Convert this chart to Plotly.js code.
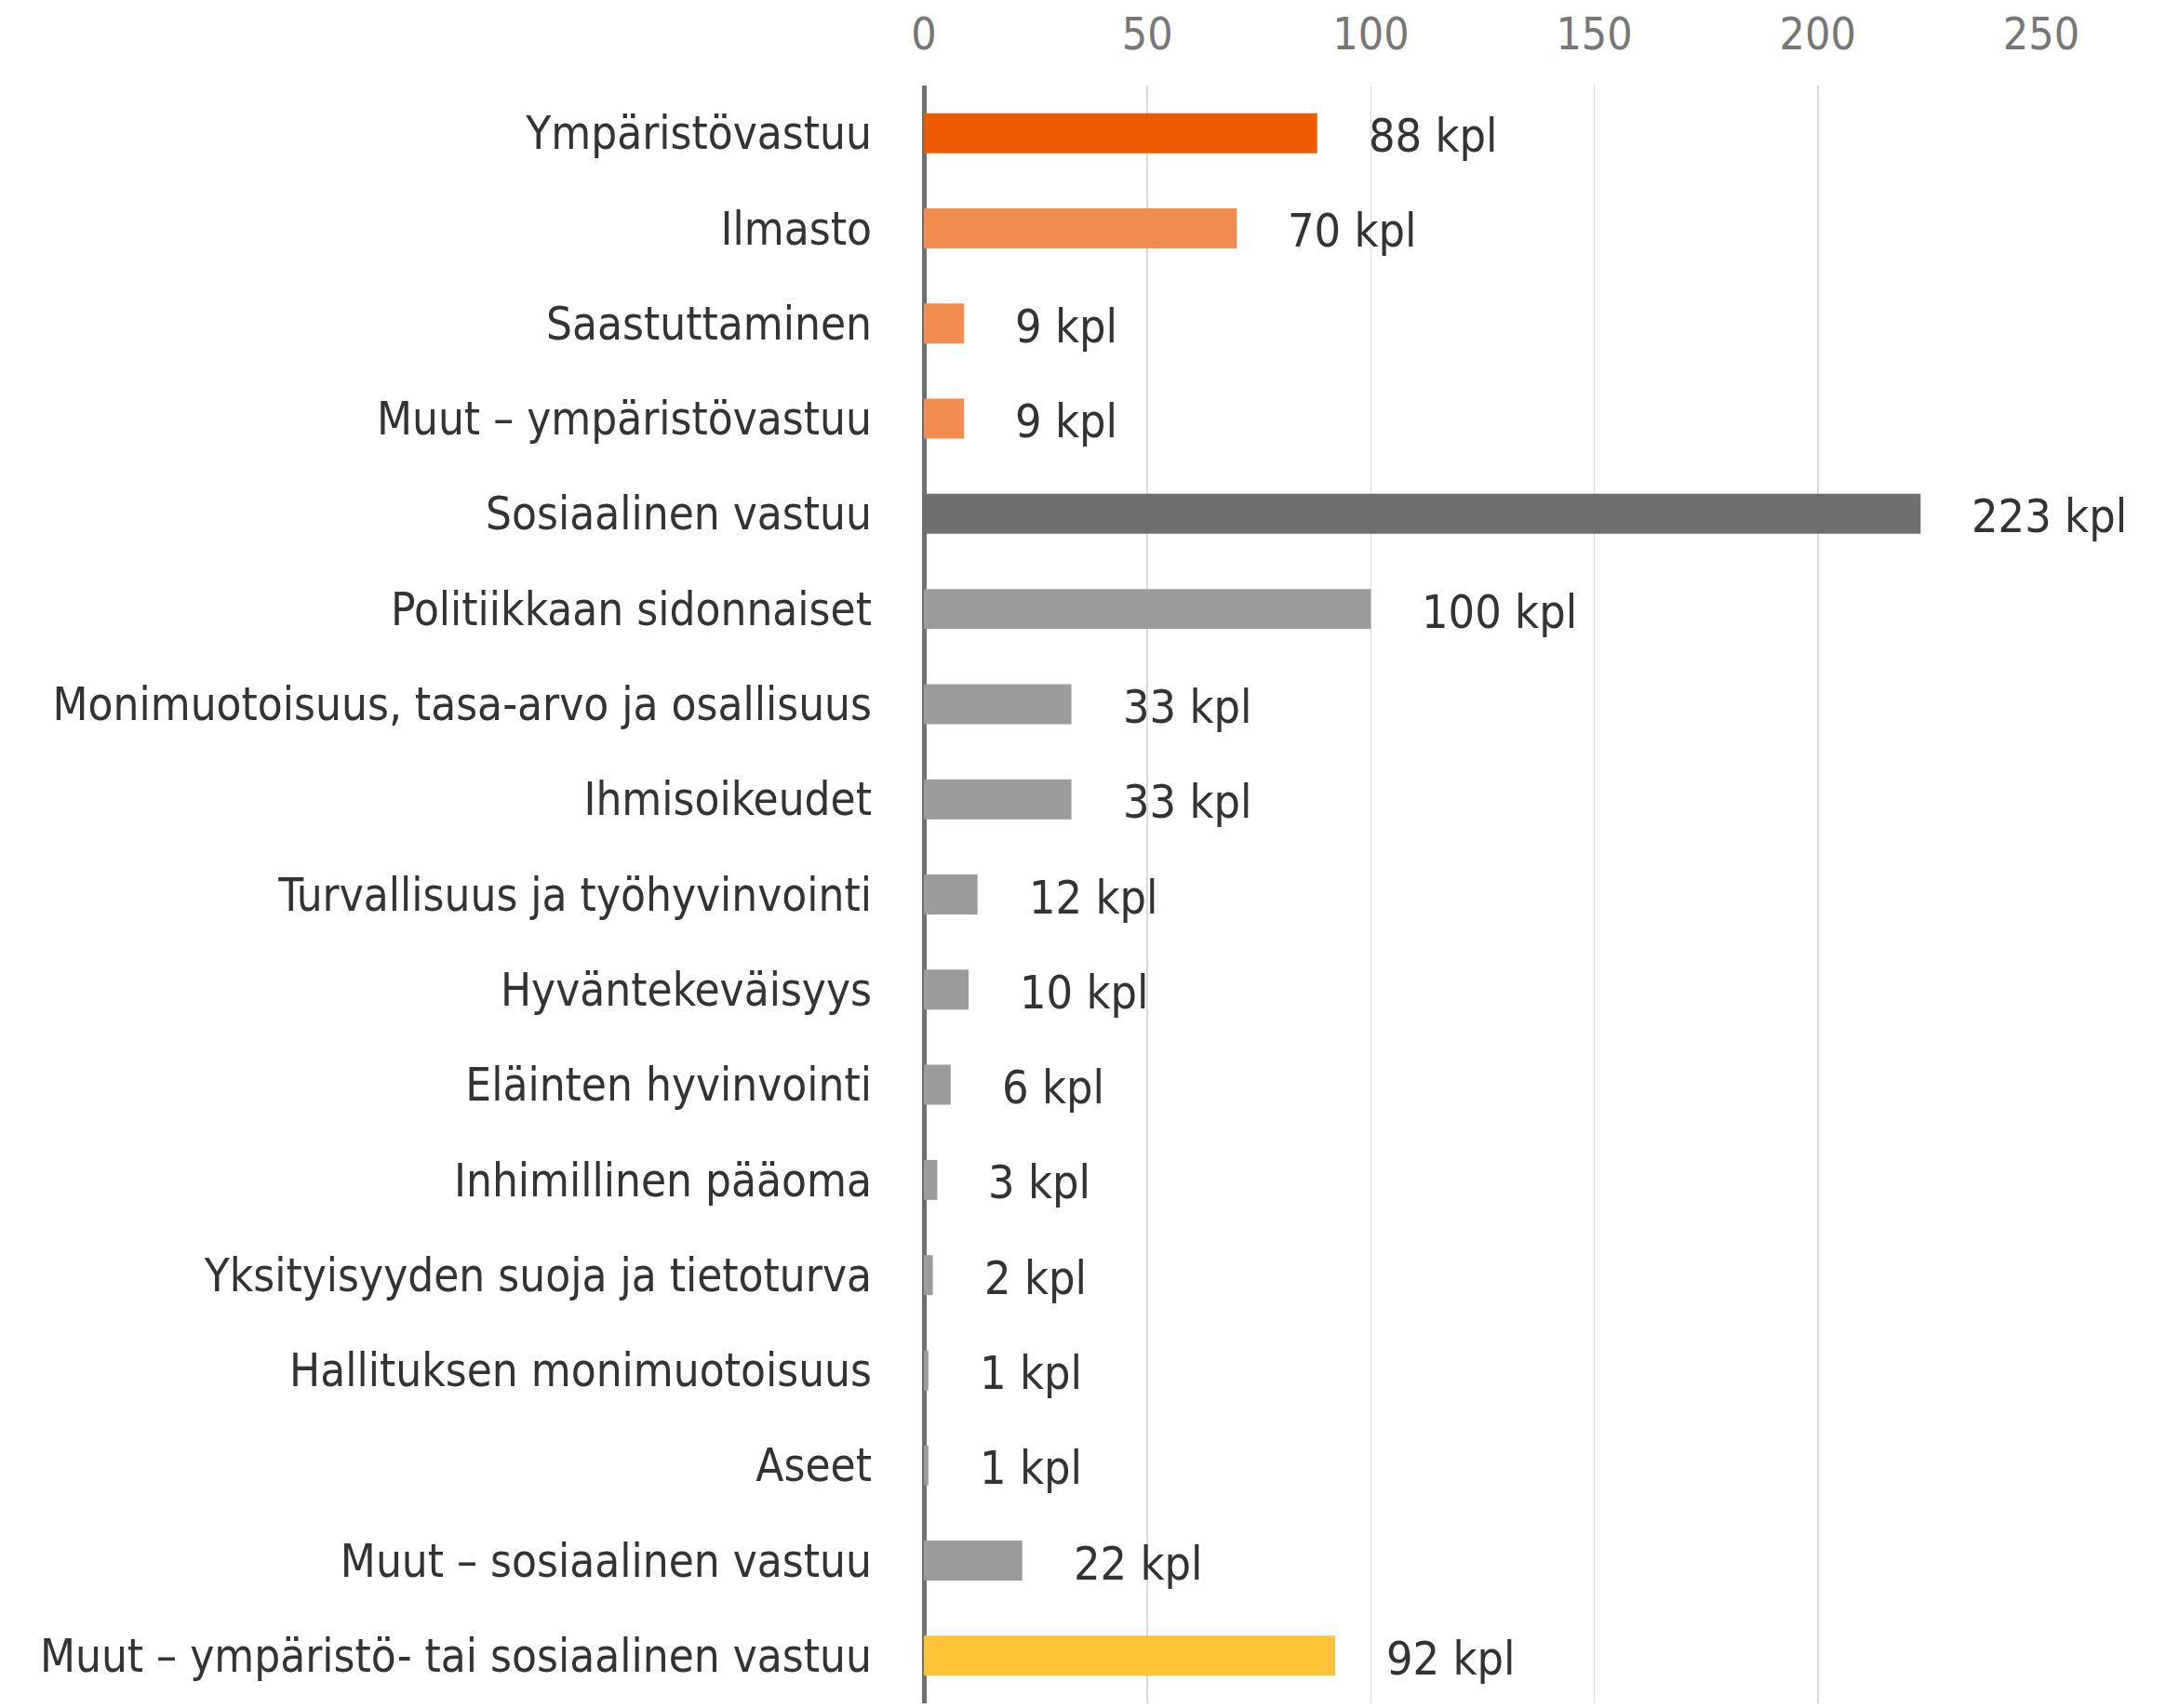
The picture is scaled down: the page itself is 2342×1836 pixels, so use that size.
<!DOCTYPE html>
<html>
<head>
<meta charset="utf-8">
<script src="https://cdn.plot.ly/plotly-3.0.1.min.js"></script>
<style>
html, body { margin: 0; padding: 0; background: #fff; }
#chart { width: 2342px; height: 1836px; }
</style>
</head>
<body>
<div id="chart"></div>
<script>
const categories = [
  "Ympäristövastuu",
  "Ilmasto",
  "Saastuttaminen",
  "Muut – ympäristövastuu",
  "Sosiaalinen vastuu",
  "Politiikkaan sidonnaiset",
  "Monimuotoisuus, tasa-arvo ja osallisuus",
  "Ihmisoikeudet",
  "Turvallisuus ja työhyvinvointi",
  "Hyväntekeväisyys",
  "Eläinten hyvinvointi",
  "Inhimillinen pääoma",
  "Yksityisyyden suoja ja tietoturva",
  "Hallituksen monimuotoisuus",
  "Aseet",
  "Muut – sosiaalinen vastuu",
  "Muut – ympäristö- tai sosiaalinen vastuu"
];
const values = [88, 70, 9, 9, 223, 100, 33, 33, 12, 10, 6, 3, 2, 1, 1, 22, 92];
const groups = ["envMain", "env", "env", "env", "socMain", "soc", "soc", "soc", "soc", "soc", "soc", "soc", "soc", "soc", "soc", "soc", "other"];
const unit = "kpl";
const xTicks = [0, 50, 100, 150, 200, 250];

const groupColors = {
  envMain: "#EE5A00",
  env: "#F28C4E",
  socMain: "#6F6F6F",
  soc: "#9B9B9B",
  other: "#FFC33A"
};

const FONT = "'Liberation Sans Narrow', 'DejaVu Sans Condensed', 'Liberation Sans', sans-serif";

const trace = {
  type: "bar",
  orientation: "h",
  x: values,
  y: categories,
  marker: { color: groups.map(g => groupColors[g]) },
  hoverinfo: "none"
};

const annotations = values.map((v, i) => ({
  x: v,
  y: categories[i],
  xref: "x",
  yref: "y",
  text: v + " " + unit,
  showarrow: false,
  xanchor: "left",
  yanchor: "middle",
  xshift: 53,
  yshift: -3,
  font: { family: FONT, size: 50, color: "#333333" }
}));

const layout = {
  width: 2342,
  height: 1836,
  margin: { l: 993, r: 148, t: 92, b: 5 },
  paper_bgcolor: "#ffffff",
  plot_bgcolor: "#ffffff",
  showlegend: false,
  bargap: 0.58,
  font: { family: FONT, color: "#333333" },
  xaxis: {
    side: "top",
    range: [0, 250],
    tickvals: xTicks,
    ticktext: xTicks.map(String),
    showgrid: true,
    gridcolor: "#DADADA",
    gridwidth: 1.5,
    zeroline: true,
    zerolinecolor: "#6F6F6F",
    zerolinewidth: 5,
    showline: false,
    ticks: "",
    ticklabelstandoff: 28,
    tickfont: { family: FONT, size: 48, color: "#767676" },
    fixedrange: true
  },
  yaxis: {
    type: "category",
    autorange: "reversed",
    showgrid: false,
    zeroline: false,
    showline: false,
    ticks: "",
    ticklabelstandoff: 55,
    tickfont: { family: FONT, size: 49, color: "#333333" },
    fixedrange: true
  },
  annotations: annotations
};

Plotly.newPlot("chart", [trace], layout, { displayModeBar: false, staticPlot: true });
</script>
</body>
</html>
